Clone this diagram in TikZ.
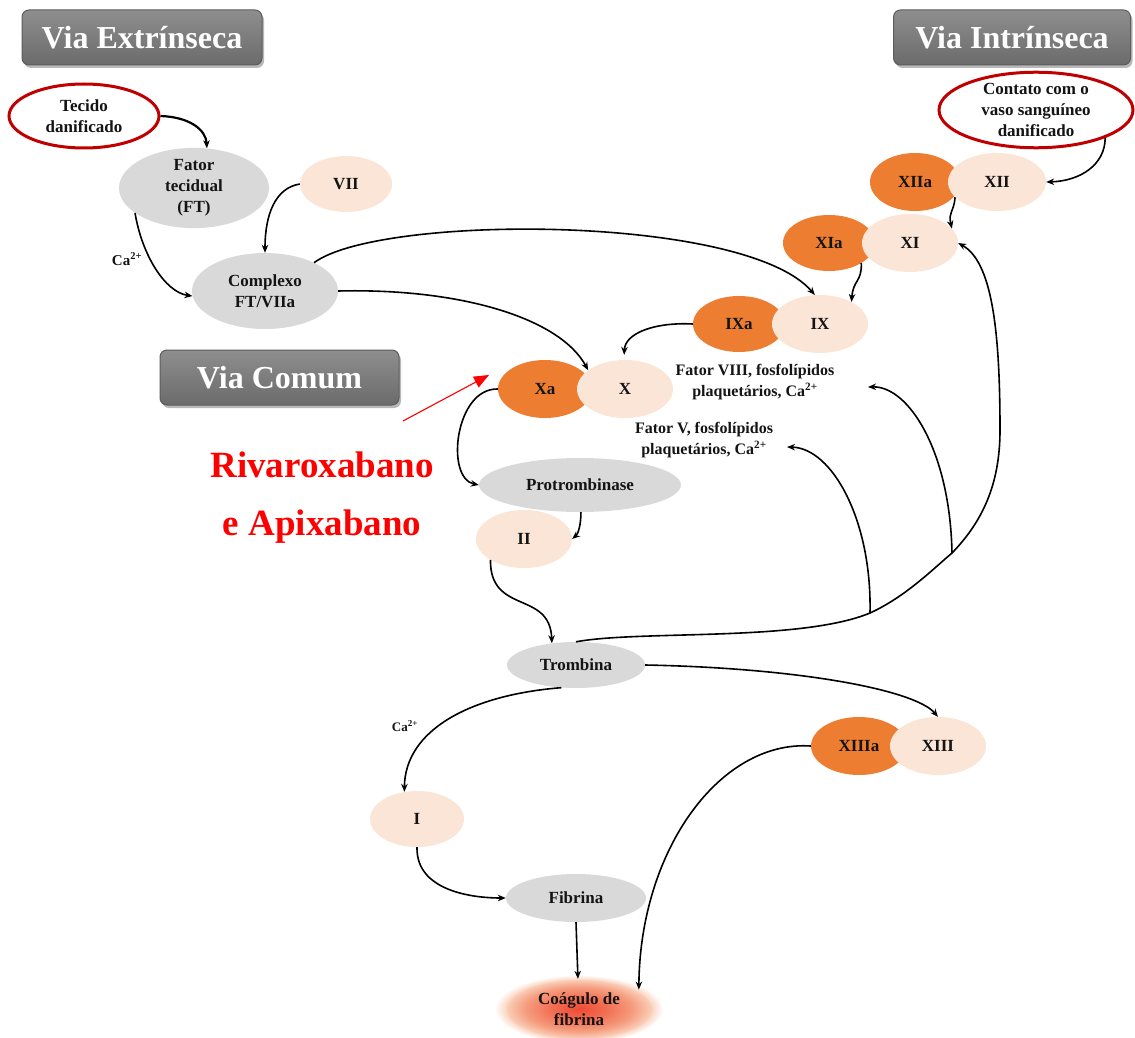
\documentclass[tikz,border=0pt]{standalone}
\usepackage{fontspec}
\setmainfont{Liberation Serif}
\usetikzlibrary{shapes.geometric,arrows.meta,shadows,fadings,calc}

\definecolor{nodegray}{HTML}{D9D9D9}
\definecolor{peach}{HTML}{FBE5D6}
\definecolor{factorange}{HTML}{ED7D31}
\definecolor{ringred}{HTML}{C00000}
\definecolor{boxtop}{HTML}{8E8E8E}
\definecolor{boxbot}{HTML}{6B6B6B}
\definecolor{boxedge}{HTML}{5C5C5C}
\definecolor{clotcore}{HTML}{EE4A34}
\definecolor{clotinner}{HTML}{F26E52}
\definecolor{clotmid}{HTML}{F59C7E}
\definecolor{clotpale}{HTML}{FAD2BC}
\definecolor{labelink}{HTML}{141414}

% radial colour ramp of the clot (edge of the path sits at 25bp)
\pgfdeclareradialshading{clotshade}{\pgfpointorigin}{%
  color(0bp)=(clotcore); color(8bp)=(clotinner); color(16bp)=(clotmid);
  color(22bp)=(clotpale); color(25bp)=(clotpale); color(50bp)=(clotpale)}

\tikzset{
  lbl/.style={font=\fontsize{17}{21}\selectfont\bfseries, text=labelink, align=center, inner sep=0pt},
  blob/.style={ellipse, lbl},
  grayblob/.style={blob, fill=nodegray},
  peachblob/.style={blob, fill=peach},
  orangeblob/.style={blob, fill=factorange},
  ringblob/.style={blob, draw=ringred, line width=3pt, fill=white},
  hdr/.style={rectangle, rounded corners=7pt, top color=boxtop, bottom color=boxbot,
    draw=boxedge, line width=1pt, text=white,
    font=\fontsize{32}{36}\selectfont\bfseries, inner sep=0pt},
  smalllbl/.style={font=\fontsize{16}{21}\selectfont\bfseries, text=labelink, align=center, inner sep=0pt},
  flow/.style={draw=black, line width=1.6pt, -{Stealth[length=8pt,width=6.5pt]}},
  drug/.style={font=\fontsize{37}{40}\selectfont\bfseries, text=red, inner sep=0pt},
}

\begin{document}
\begin{tikzpicture}[x=1pt,y=-1pt]
\useasboundingbox (0,0) rectangle (1135,1038);

% ---- header boxes (with soft shadows) ----
\foreach \cx/\cy/\w in {142/37.5/240, 1012/37.5/237, 279.5/377.5/239}{
  \fill[black, opacity=0.28, rounded corners=7pt]
    (\cx-\w/2+2,\cy-27.5+3) rectangle (\cx+\w/2+2,\cy+27.5+3);
}
\node[hdr, minimum width=240, minimum height=55] (extr) at (142,37.5) {Via Extrínseca};
\node[hdr, minimum width=237, minimum height=55] (intr) at (1012,37.5) {Via Intrínseca};
\node[hdr, minimum width=239, minimum height=55] (comum) at (279.5,377.5) {Via Comum};

% ---- extrinsic pathway ----
\node[ringblob, minimum width=150, minimum height=64] (tecido) at (84,116) {Tecido\\danificado};
\node[grayblob, minimum width=150, minimum height=64] (ft) at (194,188) {Fator\\tecidual\\(FT)};
\node[peachblob, minimum width=92, minimum height=56] (vii) at (346,184) {VII};
\node[grayblob, minimum width=146, minimum height=76] (complexo) at (265,291) {Complexo\\FT/VIIa};

% ---- intrinsic pathway ----
\node[ringblob, minimum width=194, minimum height=72] (contato) at (1036,110) {Contato com o\\vaso sanguíneo\\danificado};
\node[orangeblob, minimum width=90, minimum height=58] (xiia) at (915,182) {XIIa};
\node[peachblob, minimum width=98, minimum height=58] (xii) at (997,182) {XII};
\node[orangeblob, minimum width=92, minimum height=56] (xia) at (829,243) {XIa};
\node[peachblob, minimum width=96, minimum height=58] (xi) at (910,243) {XI};
\node[orangeblob, minimum width=92, minimum height=56] (ixa) at (739,324) {IXa};
\node[peachblob, minimum width=96, minimum height=58] (ix) at (820,324) {IX};

% ---- common pathway ----
\node[orangeblob, minimum width=94, minimum height=58] (xa) at (545,389) {Xa};
\node[peachblob, minimum width=96, minimum height=58] (x) at (625,389) {X};
\node[smalllbl] (f8lbl) at (755,382) {Fator VIII, fosfolípidos\\plaquetários, Ca\textsuperscript{2+}};
\node[smalllbl] (f5lbl) at (704,440) {Fator V, fosfolípidos\\plaquetários, Ca\textsuperscript{2+}};
\node[grayblob, minimum width=202, minimum height=54] (protromb) at (580,485) {Protrombinase};
\node[peachblob, minimum width=96, minimum height=58] (ii) at (524,539) {II};
\node[grayblob, minimum width=138, minimum height=46] (trombina) at (576,665) {Trombina};
\node[orangeblob, minimum width=96, minimum height=58] (xiiia) at (859,746) {XIIIa};
\node[peachblob, minimum width=96, minimum height=58] (xiii) at (938,746) {XIII};
\node[peachblob, minimum width=94, minimum height=56] (fi) at (417,819) {I};
\node[grayblob, minimum width=140, minimum height=48] (fibrina) at (576,898) {Fibrina};

% fibrin clot: glowing ellipse with a soft rim
\path[shading=clotshade, path fading=circle with fuzzy edge 15 percent]
  (579,1009) ellipse [x radius=84, y radius=34];
\node[blob, minimum width=156, minimum height=60] (coagulo) at (579,1009) {Coágulo de\\fibrina};

% calcium cofactor labels
\node[font=\fontsize{15}{17}\selectfont\bfseries, text=labelink, inner sep=0pt] (ca1) at (127,259) {Ca\textsuperscript{2+}};
\node[font=\fontsize{13}{15}\selectfont\bfseries, text=labelink, inner sep=0pt] (ca2) at (405,726) {Ca\textsuperscript{2+}};

% drug annotation
\node[drug] (riva) at (322,465) {Rivaroxabano};
\node[drug] (apix) at (322,527) {e Apixabano};
\coordinate (rivtail) at (403,421);
\coordinate (rivtip) at (489,375);
\draw[red, line width=1.1pt, -{Triangle[length=15pt,width=12pt]}] (rivtail) -- (rivtip);

% ---- connectors: extrinsic ----
\draw[flow, line width=2.2pt] (tecido.east) .. controls (190,117) and (206,130) .. (ft.72);
\draw[flow] (ft.203) .. controls (142,255) and (165,292) .. (complexo.184);
\draw[flow] (vii.west) .. controls (275,188) and (265,215) .. (complexo.north);
\draw[flow] (complexo.30) .. controls (380,214) and (745,214) .. (ix.100);
\draw[flow] (complexo.east) .. controls (460,288) and (560,318) .. (x.153);

% ---- connectors: intrinsic ----
\draw[flow] (contato.-22) .. controls (1105,165) and (1080,181) .. (xii.east);
\draw[flow] (xii.200) .. controls (954,212) and (948,212) .. (xi.19);
\draw[flow] (xia.-32) .. controls (862,282) and (853,280) .. (ix.35);
\draw[flow, shorten >=5pt] (ixa.west) .. controls (655,322) and (625,333) .. (x.92);

% ---- connectors: common ----
\draw[flow] (xa.west) .. controls (455,388) and (445,478) .. (protromb.west);
\draw[flow] (protromb.-88) .. controls (581,525) and (578,534) .. (ii.east);
\draw[flow] (ii.212) .. controls (490,615) and (550,590) .. (trombina.138);

% thrombin feedback loop with its branches
\coordinate (jA) at (870,613);
\coordinate (jB) at (952,553);
\coordinate (jC) at (1000,430);
\coordinate (f5in) at (787,447);
\coordinate (f8in) at (868,387);
\draw[flow] (trombina.north) .. controls (640,630) and (800,642) .. (jA)
  .. controls (905,597) and (932,570) .. (jB)
  .. controls (982,522) and (1000,485) .. (jC)
  .. controls (1000,330) and (992,262) .. (xi.east);
\draw[flow] (jA) .. controls (872,520) and (832,448) .. (f5in);
\draw[flow] (jB) .. controls (950,450) and (908,386) .. (f8in);

\draw[flow] (trombina.east) .. controls (800,668) and (915,690) .. (xiii.north);
\draw[flow] (trombina.237) .. controls (470,695) and (405,730) .. (fi.115);
\draw[flow] (fi.south) .. controls (416,890) and (470,898) .. (fibrina.west);
\draw[flow] (fibrina.south) -- (coagulo.92);
\draw[flow] (xiiia.west) .. controls (720,740) and (640,850) .. (coagulo.18);

\end{tikzpicture}
\end{document}
